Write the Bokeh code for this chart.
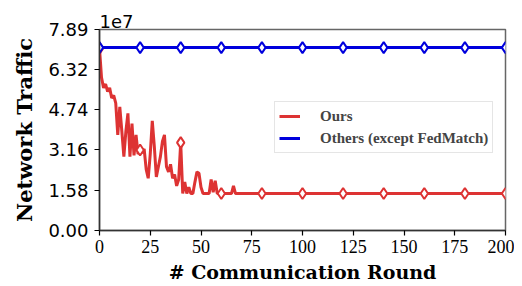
from bokeh.plotting import figure
from bokeh.models import FixedTicker, PrintfTickFormatter, Range1d, Legend, LegendItem
from bokeh.embed import file_html
from bokeh.resources import INLINE

# values in units of 1e7
red_rounds = list(range(0, 71)) + [80, 100, 120, 140, 160, 180, 200]
red_values = [
    7.15, 6.0, 5.6, 5.75, 5.45, 5.6, 5.2, 5.3, 5.0, 3.75,
    4.85, 3.9, 2.9, 3.9, 4.6, 2.9, 4.2, 2.95, 3.75, 3.0,
    3.16, 3.05, 3.2, 2.4, 2.05, 3.0, 4.3, 3.3, 2.1, 2.5,
    2.9, 3.5, 3.75, 2.5, 2.3, 2.6, 2.05, 2.2, 1.75, 2.0,
    3.45, 1.45, 1.9, 1.45, 1.7, 1.45, 1.45, 1.9, 2.3, 2.25,
    1.7, 1.45, 1.45, 1.45, 1.45, 2.0, 1.5, 1.95, 1.45, 1.45,
    1.45, 1.45, 1.45, 1.45, 1.45, 1.45, 1.75, 1.45, 1.45, 1.45,
    1.45,
    1.45, 1.45, 1.45, 1.45, 1.45, 1.45, 1.45,
]
blue_rounds = [0, 20, 40, 60, 80, 100, 120, 140, 160, 180, 200]
blue_values = [7.18, 7.18, 7.18, 7.18, 7.18, 7.18, 7.18, 7.18, 7.18, 7.18, 7.18]
marker_rounds = [0, 20, 40, 60, 80, 100, 120, 140, 160, 180, 200]
y_ticks = [0.0, 1.58, 3.16, 4.74, 6.32, 7.89]
x_ticks = [0, 25, 50, 75, 100, 125, 150, 175, 200]

red_lookup = dict(zip(red_rounds, red_values))
red_mx = [r for r in marker_rounds]
red_my = [red_lookup[r] for r in marker_rounds]

RED = "#dd3333"
BLUE = "#0000dd"
SERIF = "Liberation Serif"
SERIF_LBL = "DejaVu Serif"
SANS = "DejaVu Sans"

p = figure(width=514, height=284, output_backend="svg", toolbar_location=None,
           x_range=Range1d(0, 200), y_range=Range1d(0, 7.89),
           min_border_left=99, min_border_right=9, min_border_top=29, min_border_bottom=54,
           frame_width=406, frame_height=201)
p.xgrid.visible = False
p.ygrid.visible = False
p.background_fill_color = "white"
p.border_fill_color = "white"
p.outline_line_color = "#666666"
p.outline_line_width = 1.5

p.title.text = "1e7"
p.title.text_font = SANS
p.title.text_font_size = "18px"
p.title.text_font_style = "normal"
p.title.text_color = "black"
p.title.align = "left"
p.title.offset = 0
p.title.standoff = 3

r1 = p.line(red_rounds, red_values, line_color=RED, line_width=3)
p.scatter(red_mx, red_my, marker="diamond", size=11, fill_color="white",
          line_color=RED, line_width=2)
r2 = p.line(blue_rounds, blue_values, line_color=BLUE, line_width=3)
p.scatter(blue_rounds, blue_values, marker="diamond", size=11, fill_color="white",
          line_color=BLUE, line_width=2)

p.xaxis.ticker = FixedTicker(ticks=x_ticks)
p.yaxis.ticker = FixedTicker(ticks=y_ticks)
p.yaxis.formatter = PrintfTickFormatter(format="%.2f")
for ax in (p.xaxis[0], p.yaxis[0]):
    ax.axis_line_color = "#333333"
    ax.axis_line_width = 1.5
    ax.major_tick_line_color = "black"
    ax.major_tick_line_width = 1.2
    ax.major_tick_out = 5
    ax.major_tick_in = 0
    ax.minor_tick_line_color = None
    ax.major_label_text_color = "black"
    ax.axis_label_text_color = "black"
    ax.axis_label_text_font_style = "bold"
    ax.axis_label_text_font = SERIF_LBL

p.xaxis.major_label_text_font = SERIF
p.xaxis.major_label_text_font_size = "18px"
p.xaxis.major_label_standoff = 4
p.xaxis.axis_label = "# Communication Round"
p.xaxis.axis_label_text_font_size = "19px"
p.xaxis.axis_label_standoff = 5

p.yaxis.major_label_text_font = SANS
p.yaxis.major_label_text_font_size = "18px"
p.yaxis.major_label_standoff = 6
p.yaxis.axis_label = "Network Traffic"
p.yaxis.axis_label_text_font_size = "21px"
p.yaxis.axis_label_standoff = 8

legend = Legend(items=[LegendItem(label="Ours", renderers=[r1]),
                       LegendItem(label="Others (except FedMatch)", renderers=[r2])],
                location=(175, 77))
legend.label_text_font = SERIF
legend.label_text_font_style = "bold"
legend.label_text_font_size = "15px"
legend.glyph_width = 21
legend.glyph_height = 20
legend.label_height = 20
legend.label_standoff = 20
legend.spacing = 2
legend.padding = 4
legend.margin = 0
legend.border_line_color = "#cccccc"
legend.border_line_width = 1
legend.background_fill_alpha = 0.8
p.add_layout(legend)

open("out.html", "w").write(file_html(p, INLINE))
